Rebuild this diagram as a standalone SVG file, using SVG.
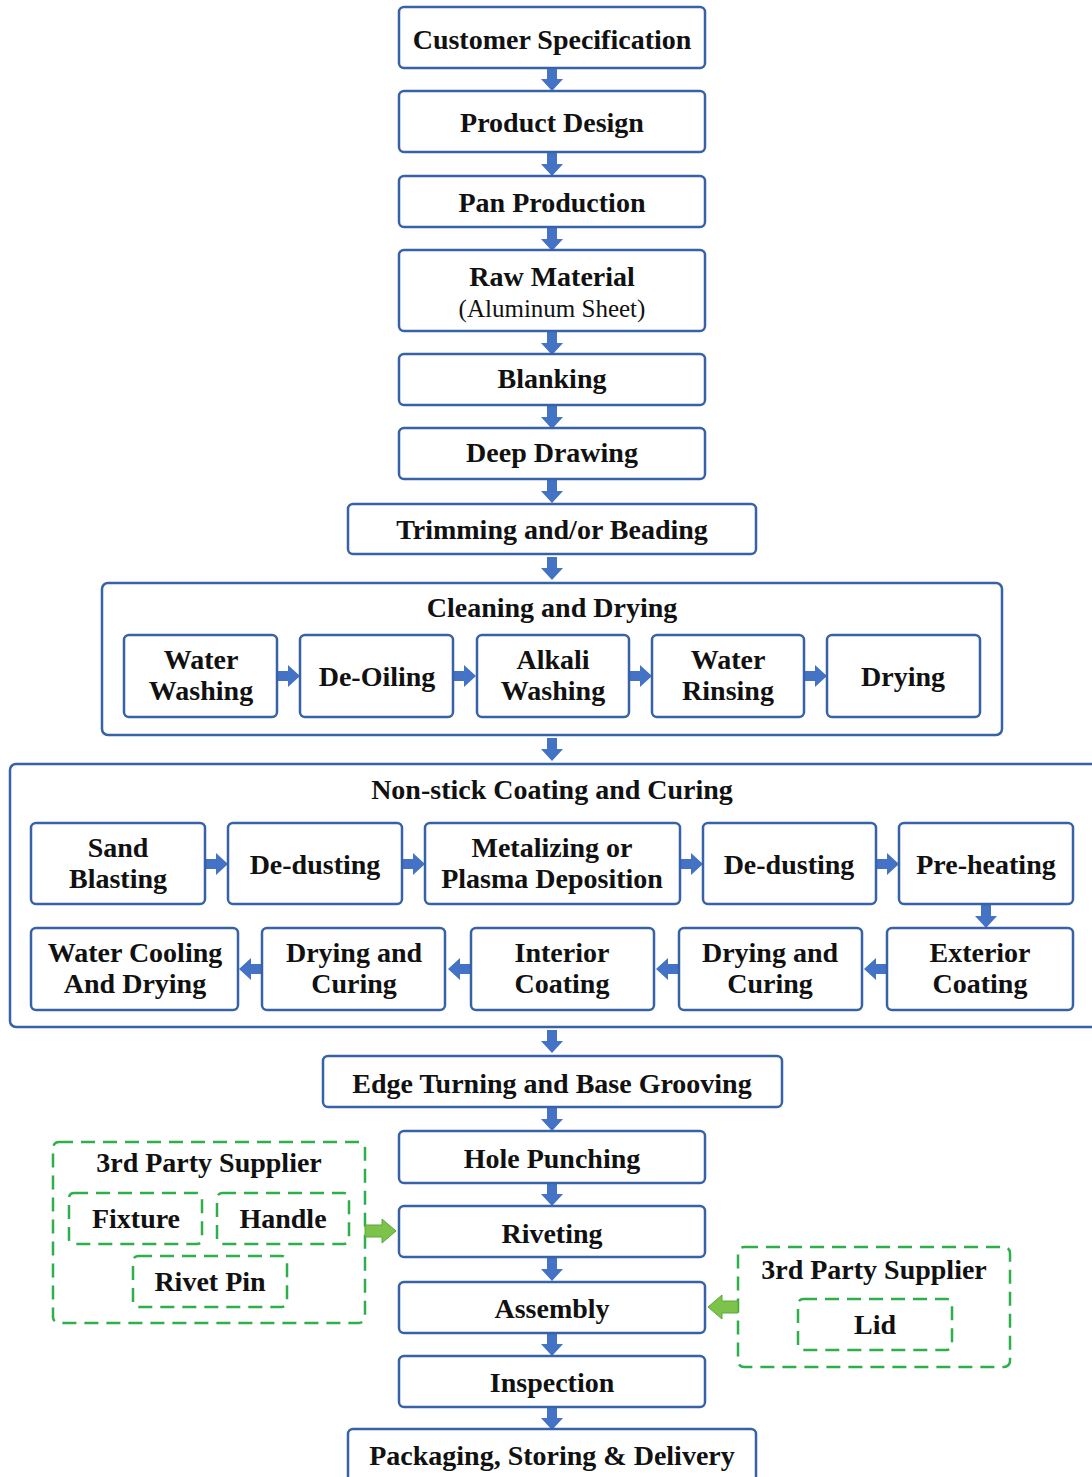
<svg xmlns="http://www.w3.org/2000/svg" width="1092" height="1477" viewBox="0 0 1092 1477">
<style>
.b{fill:#fff;stroke:#3762A8;stroke-width:2.5}
.c{fill:#fff;stroke:#3762A8;stroke-width:2.5}
.g{fill:none;stroke:#2DB04B;stroke-width:2.5;stroke-dasharray:14 8}
.t{font-family:"Liberation Serif","Times New Roman",serif;font-weight:bold;font-size:28px;fill:#111;text-anchor:middle}
.r{font-family:"Liberation Serif","Times New Roman",serif;font-size:25px;fill:#111;text-anchor:middle}
.a{fill:#4472C4}
.ga{fill:#7DC24B;stroke:#5BA83A;stroke-width:1}
</style>
<defs>
<path id="ad" class="a" d="M-5,0 H5 V11 H11 L0,23 L-11,11 H-5 Z"/>
<path id="ar" class="a" d="M0,-5 H11 V-11 L23,0 L11,11 V5 H0 Z"/>
<path id="al" class="a" d="M0,-5 H-11 V-11 L-23,0 L-11,11 V5 H0 Z"/>
</defs>
<rect width="1092" height="1477" fill="#fff"/>
<g id="cleaning">
<rect class="c" x="102" y="583" width="900" height="152" rx="6"/>
<text class="t" x="552" y="617">Cleaning and Drying</text>
</g>
<g id="nonstick">
<rect class="c" x="10" y="764" width="1090" height="263" rx="6"/>
<text class="t" x="552" y="799">Non-stick Coating and Curing</text>
</g>
<g id="supplier1">
<rect class="g" x="53" y="1142" width="312" height="181" rx="6"/>
<text class="t" x="209" y="1172">3rd Party Supplier</text>
</g>
<g id="supplier2">
<rect class="g" x="738" y="1247" width="272" height="120" rx="6"/>
<text class="t" x="874" y="1279">3rd Party Supplier</text>
</g>
<g id="connectors">
<use href="#ad" x="552" y="68"/>
<use href="#ad" x="552" y="153"/>
<use href="#ad" x="552" y="228"/>
<use href="#ad" x="552" y="332"/>
<use href="#ad" x="552" y="406"/>
<use href="#ad" x="552" y="480"/>
<use href="#ad" x="552" y="557"/>
<use href="#ad" x="552" y="738"/>
<use href="#ad" x="552" y="1030"/>
<use href="#ad" x="552" y="1108"/>
<use href="#ad" x="552" y="1183"/>
<use href="#ad" x="552" y="1258"/>
<use href="#ad" x="552" y="1333"/>
<use href="#ad" x="552" y="1407"/>
<use href="#ar" x="277" y="676"/>
<use href="#ar" x="453" y="676"/>
<use href="#ar" x="629" y="676"/>
<use href="#ar" x="804" y="676"/>
<use href="#ar" x="205" y="864"/>
<use href="#ar" x="402" y="864"/>
<use href="#ar" x="680" y="864"/>
<use href="#ar" x="876" y="864"/>
<use href="#ad" x="986" y="905"/>
<use href="#al" x="262" y="969"/>
<use href="#al" x="471" y="969"/>
<use href="#al" x="679" y="969"/>
<use href="#al" x="887" y="969"/>
<path class="ga" d="M365,1225 H382 V1219 L396,1231 L382,1243 V1237 H365 Z"/>
<path class="ga" d="M738,1301 H722 V1295 L708,1307 L722,1319 V1313 H738 Z"/>
</g>
<g id="customer"><rect class="b" x="399" y="7" width="306" height="61" rx="5"/><text class="t" x="552" y="49">Customer Specification</text></g>
<g id="design"><rect class="b" x="399" y="91" width="306" height="61" rx="5"/><text class="t" x="552" y="132">Product Design</text></g>
<g id="pan"><rect class="b" x="399" y="176" width="306" height="51" rx="5"/><text class="t" x="552" y="212">Pan Production</text></g>
<g id="raw"><rect class="b" x="399" y="250" width="306" height="81" rx="5"/><text class="t" x="552" y="286">Raw Material</text><text class="r" x="552" y="317">(Aluminum Sheet)</text></g>
<g id="blanking"><rect class="b" x="399" y="354" width="306" height="51" rx="5"/><text class="t" x="552" y="388">Blanking</text></g>
<g id="deep"><rect class="b" x="399" y="428" width="306" height="51" rx="5"/><text class="t" x="552" y="462">Deep Drawing</text></g>
<g id="trimming"><rect class="b" x="348" y="504" width="408" height="50" rx="5"/><text class="t" x="552" y="539">Trimming and/or Beading</text></g>
<g id="waterwash"><rect class="b" x="124" y="635" width="153" height="82" rx="5"/><text class="t" x="201" y="669">Water</text><text class="t" x="201" y="700">Washing</text></g>
<g id="deoiling"><rect class="b" x="300" y="635" width="153" height="82" rx="5"/><text class="t" x="377" y="686">De-Oiling</text></g>
<g id="alkali"><rect class="b" x="477" y="635" width="152" height="82" rx="5"/><text class="t" x="553" y="669">Alkali</text><text class="t" x="553" y="700">Washing</text></g>
<g id="rinsing"><rect class="b" x="652" y="635" width="152" height="82" rx="5"/><text class="t" x="728" y="669">Water</text><text class="t" x="728" y="700">Rinsing</text></g>
<g id="drying"><rect class="b" x="827" y="635" width="153" height="82" rx="5"/><text class="t" x="903" y="686">Drying</text></g>
<g id="sand"><rect class="b" x="31" y="823" width="174" height="81" rx="5"/><text class="t" x="118" y="857">Sand</text><text class="t" x="118" y="888">Blasting</text></g>
<g id="dedust1"><rect class="b" x="228" y="823" width="174" height="81" rx="5"/><text class="t" x="315" y="874">De-dusting</text></g>
<g id="metal"><rect class="b" x="425" y="823" width="255" height="81" rx="5"/><text class="t" x="552" y="857">Metalizing or</text><text class="t" x="552" y="888">Plasma Deposition</text></g>
<g id="dedust2"><rect class="b" x="703" y="823" width="173" height="81" rx="5"/><text class="t" x="789" y="874">De-dusting</text></g>
<g id="preheat"><rect class="b" x="899" y="823" width="174" height="81" rx="5"/><text class="t" x="986" y="874">Pre-heating</text></g>
<g id="watercool"><rect class="b" x="31" y="928" width="207" height="82" rx="5"/><text class="t" x="135" y="962">Water Cooling</text><text class="t" x="135" y="993">And Drying</text></g>
<g id="drycure1"><rect class="b" x="262" y="928" width="183" height="82" rx="5"/><text class="t" x="354" y="962">Drying and</text><text class="t" x="354" y="993">Curing</text></g>
<g id="interior"><rect class="b" x="471" y="928" width="183" height="82" rx="5"/><text class="t" x="562" y="962">Interior</text><text class="t" x="562" y="993">Coating</text></g>
<g id="drycure2"><rect class="b" x="679" y="928" width="183" height="82" rx="5"/><text class="t" x="770" y="962">Drying and</text><text class="t" x="770" y="993">Curing</text></g>
<g id="exterior"><rect class="b" x="887" y="928" width="186" height="82" rx="5"/><text class="t" x="980" y="962">Exterior</text><text class="t" x="980" y="993">Coating</text></g>
<g id="edge"><rect class="b" x="323" y="1056" width="459" height="51" rx="5"/><text class="t" x="552" y="1093">Edge Turning and Base Grooving</text></g>
<g id="hole"><rect class="b" x="399" y="1131" width="306" height="52" rx="5"/><text class="t" x="552" y="1168">Hole Punching</text></g>
<g id="riveting"><rect class="b" x="399" y="1206" width="306" height="51" rx="5"/><text class="t" x="552" y="1243">Riveting</text></g>
<g id="assembly"><rect class="b" x="399" y="1282" width="306" height="51" rx="5"/><text class="t" x="552" y="1318">Assembly</text></g>
<g id="inspection"><rect class="b" x="399" y="1356" width="306" height="51" rx="5"/><text class="t" x="552" y="1392">Inspection</text></g>
<g id="packaging"><rect class="b" x="348" y="1429" width="408" height="70" rx="5"/><text class="t" x="552" y="1465">Packaging, Storing &amp; Delivery</text></g>
<g id="fixture"><rect class="g" x="69" y="1193" width="133" height="51" rx="5"/><text class="t" x="136" y="1228">Fixture</text></g>
<g id="handle"><rect class="g" x="217" y="1193" width="132" height="51" rx="5"/><text class="t" x="283" y="1228">Handle</text></g>
<g id="rivetpin"><rect class="g" x="133" y="1256" width="154" height="51" rx="5"/><text class="t" x="210" y="1291">Rivet Pin</text></g>
<g id="lid"><rect class="g" x="798" y="1299" width="154" height="51" rx="5"/><text class="t" x="875" y="1334">Lid</text></g>
</svg>
